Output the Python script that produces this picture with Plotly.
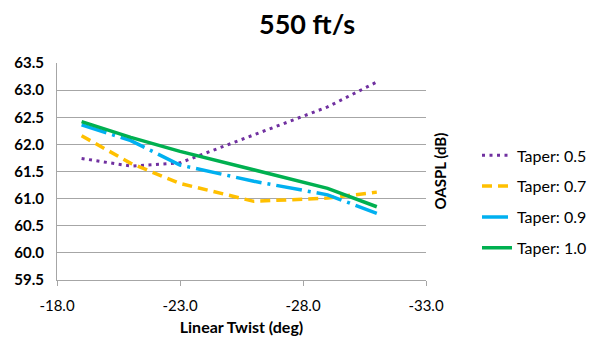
import plotly.graph_objects as go

twist = [-19, -21, -23, -26, -29, -31]
taper_05 = [61.74, 61.60, 61.66, 62.17, 62.69, 63.15]
taper_07 = [62.16, 61.65, 61.28, 60.95, 61.01, 61.12]
taper_09 = [62.36, 62.07, 61.62, 61.32, 61.07, 60.73]
taper_10 = [62.42, 62.13, 61.87, 61.53, 61.19, 60.85]
names = ["Taper: 0.5", "Taper: 0.7", "Taper: 0.9", "Taper: 1.0"]
x_tickvals = [-18, -23, -28, -33]
x_ticktext = ["-18.0", "-23.0", "-28.0", "-33.0"]

FONT = "Lato, Calibri, sans-serif"
styles = [("#7030A0", "3px,4.5px", 3), ("#FFC000", "10px,6px", 3.5),
          ("#00B0F0", "26px,6px,3px,6px", 3.5), ("#00B050", "solid", 3.5)]

# page has 8px body offset; plot area in page coords: x 57..426, y 63..280
L, R, T, B = 49, 418, 55, 272
W, H = 597, 341
PW, PH = R - L, B - T

fig = go.Figure()
for i, (ys, nm, (col, dash, w)) in enumerate(zip([taper_05, taper_07, taper_09, taper_10], names, styles)):
    fig.add_trace(go.Scatter(x=twist, y=ys, mode="lines", name=nm, legendgroup=f"g{i}",
                             line=dict(color=col, dash=dash, width=w)))

fig.update_layout(
    width=W, height=H,
    margin=dict(l=L, r=W - R, t=T, b=H - B, autoexpand=False),
    paper_bgcolor="white", plot_bgcolor="white",
    font=dict(family=FONT, color="black"),
    title=dict(text="<b>550 ft/s</b>", x=299 / W, xanchor="center", y=1 - 17 / H, yanchor="middle",
               font=dict(size=27, family=FONT, color="black")),
    legend=dict(x=(469 - L) / PW, xanchor="left", y=0.36, yanchor="middle",
                font=dict(size=16, family=FONT, color="black"), tracegroupgap=7,
                bgcolor="rgba(0,0,0,0)"),
    xaxis=dict(range=[-18, -33], tickvals=x_tickvals, ticktext=x_ticktext, showgrid=False,
               showline=True, linecolor="#a6a6a6", linewidth=1, ticks="outside", ticklen=5,
               tickcolor="#a6a6a6", zeroline=False, ticklabelstandoff=7,
               tickfont=dict(size=15, family=FONT, color="black"),
               title=dict(text="<b>Linear Twist (deg)</b>", font=dict(size=16, family=FONT), standoff=8)),
    yaxis=dict(range=[59.5, 63.5], dtick=0.5, tickformat=".1f", showgrid=True, gridcolor="#a6a6a6",
               gridwidth=1, showline=True, linecolor="#a6a6a6", linewidth=1, ticks="", zeroline=False,
               ticklabelstandoff=9,
               tickfont=dict(size=15, family=FONT, color="black")),
    annotations=[dict(text="<b>OASPL (dB)</b>", xref="paper", yref="paper", x=(431 - L) / PW, y=0.5,
                      textangle=-90, showarrow=False, xanchor="center", yanchor="middle",
                      font=dict(size=15, family=FONT, color="black"))],
)
fig.update_xaxes(tickprefix="<b>", ticksuffix="</b>")
fig.update_yaxes(tickprefix="<b>", ticksuffix="</b>")

fig.write_html("out.html")
